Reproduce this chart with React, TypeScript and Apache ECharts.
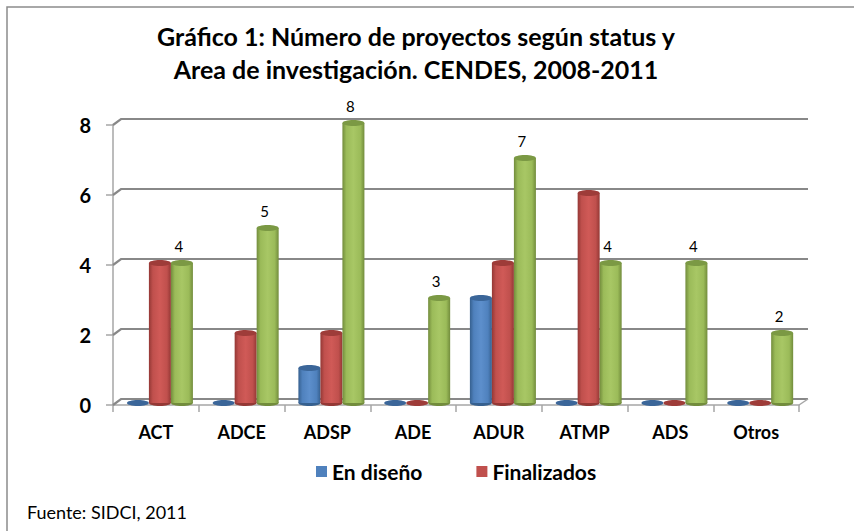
import React, { useEffect, useRef } from "react";
import * as echarts from "echarts";

const categories = ["ACT", "ADCE", "ADSP", "ADE", "ADUR", "ATMP", "ADS", "Otros"];
const enDiseno = [0, 0, 1, 0, 3, 0, 0, 0];
const finalizados = [4, 2, 2, 0, 4, 6, 0, 0];
const enEjecucion = [4, 5, 8, 3, 7, 4, 4, 2];
const yTicks = [0, 2, 4, 6, 8];
const titleText = "Gráfico 1: Número de proyectos según status y\nArea de investigación. CENDES, 2008-2011";
const sourceText = "Fuente: SIDCI, 2011";

const FONT = "Lato, 'Liberation Sans', sans-serif";

const palettes = [
  { base: "#4f81bd", dark: "#36608f", light: "#5d8fcc", top: "#3b6699" },
  { base: "#c0504d", dark: "#943835", light: "#d05a57", top: "#9e3c39" },
  { base: "#9bbb59", dark: "#728c3c", light: "#a8c765", top: "#7b9944" },
];

function makeBarRender(s: number, withLabel: boolean) {
  const p = palettes[s];
  return (params: any, api: any) => {
    const i = api.value(0);
    const v = api.value(1);
    const base = api.coord([i, 0]);
    const top = api.coord([i, v]);
    const band = api.size([1, 0])[0];
    const w = band * 0.2566;
    const cx = base[0] + (s - 1) * w + band * 0.047;
    const dy = -2;
    const bottomY = base[1] + dy;
    const topY = top[1] + dy;
    const rx = w / 2;
    const ry = 3;
    const children: any[] = [];
    if (v > 0) {
      children.push({
        type: "ellipse",
        shape: { cx, cy: bottomY, rx, ry },
        style: { fill: p.dark },
      });
      children.push({
        type: "rect",
        shape: { x: cx - rx, y: topY, width: w, height: bottomY - topY },
        style: {
          fill: new echarts.graphic.LinearGradient(0, 0, 1, 0, [
            { offset: 0, color: p.dark },
            { offset: 0.18, color: p.base },
            { offset: 0.5, color: p.light },
            { offset: 0.82, color: p.base },
            { offset: 1, color: p.dark },
          ]),
        },
      });
    }
    children.push({
      type: "ellipse",
      shape: { cx, cy: topY, rx, ry },
      style: { fill: p.top },
    });
    if (withLabel) {
      children.push({
        type: "text",
        style: {
          text: String(v),
          x: cx - 3,
          y: topY - 17,
          align: "center",
          verticalAlign: "middle",
          font: "15px " + FONT,
          fill: "#000",
        },
      });
    }
    return { type: "group", children };
  };
}

function gridRender(params: any, api: any) {
  const v = api.value(1);
  const y = api.coord([0, v])[1];
  const cs = params.coordSys;
  const x0 = cs.x;
  const x1 = cs.x + cs.width;
  const children: any[] = [
    {
      type: "polyline",
      shape: { points: [[x0, y], [x0 + 8, y - 6], [x1 + 9, y - 6]] },
      style: { stroke: "#888888", lineWidth: 2.2, fill: null },
    },
  ];
  if (v === 0) {
    children.push({
      type: "line",
      shape: { x1: x1, y1: y, x2: x1 + 9, y2: y - 6 },
      style: { stroke: "#a6a6a6", lineWidth: 1.5 },
    });
  }
  return { type: "group", children };
}

export default function App() {
  const ref = useRef<HTMLDivElement>(null);
  useEffect(() => {
    if (!ref.current) return;
    const chart = echarts.init(ref.current, null, { renderer: "svg" });
    const toPairs = (arr: number[]) => arr.map((v, i) => [i, v]);
    chart.setOption({
      animation: false,
      backgroundColor: "#ffffff",
      title: {
        text: titleText,
        left: 411,
        top: 14,
        textAlign: "center",
        textStyle: {
          fontFamily: FONT,
          fontWeight: "bold",
          fontSize: 25,
          lineHeight: 33,
          color: "#000",
        },
      },
      legend: {
        data: [
          { name: "En diseño", icon: "rect" },
          { name: "Finalizados", icon: "rect" },
        ],
        left: 311,
        top: 456,
        itemWidth: 11,
        itemHeight: 11,
        itemGap: 54,
        textStyle: { fontFamily: FONT, fontWeight: "bold", fontSize: 21, color: "#000" },
      },
      grid: { left: 113, right: 55, top: 125, bottom: 126 },
      xAxis: {
        type: "category",
        data: categories,
        boundaryGap: true,
        axisLine: { lineStyle: { color: "#a6a6a6", width: 1.5 } },
        axisTick: { show: true, length: 7, interval: 0, lineStyle: { color: "#a6a6a6", width: 1.5 } },
        axisLabel: { fontFamily: FONT, fontWeight: "bold", fontSize: 18, color: "#000", margin: 18, interval: 0 },
        splitLine: { show: false },
      },
      yAxis: {
        type: "value",
        min: 0,
        max: 8,
        interval: 2,
        axisLine: { show: true, lineStyle: { color: "#a6a6a6", width: 1.5 } },
        axisTick: { show: true, length: 7, lineStyle: { color: "#a6a6a6", width: 1.5 } },
        axisLabel: { fontFamily: FONT, fontWeight: "bold", fontSize: 20, color: "#000", margin: 22 },
        splitLine: { show: false },
      },
      graphic: [
        {
          type: "rect",
          shape: { x: 7, y: 7, width: 870, height: 550 },
          style: { fill: null, stroke: "#8c8c8c", lineWidth: 1.5 },
          silent: true,
        },
        {
          type: "text",
          x: 27,
          y: 512,
          style: {
            text: sourceText,
            font: "18px " + FONT,
            fill: "#000",
            verticalAlign: "middle",
          },
          silent: true,
        },
      ],
      series: [
        {
          type: "custom",
          name: "grid",
          silent: true,
          z: 1,
          data: yTicks.map((t) => [0, t]),
          encode: { x: 0, y: 1 },
          renderItem: gridRender,
        },
        {
          type: "custom",
          name: "En diseño",
          z: 3,
          itemStyle: { color: palettes[0].base },
          data: toPairs(enDiseno),
          encode: { x: 0, y: 1 },
          renderItem: makeBarRender(0, false),
        },
        {
          type: "custom",
          name: "Finalizados",
          z: 3,
          itemStyle: { color: palettes[1].base },
          data: toPairs(finalizados),
          encode: { x: 0, y: 1 },
          renderItem: makeBarRender(1, false),
        },
        {
          type: "custom",
          name: "En ejecución",
          z: 3,
          itemStyle: { color: palettes[2].base },
          data: toPairs(enEjecucion),
          encode: { x: 0, y: 1 },
          renderItem: makeBarRender(2, true),
        },
      ],
    });
    return () => chart.dispose();
  }, []);
  return (
    <div
      ref={ref}
      style={{ position: "fixed", left: 0, top: 0, width: 854, height: 531 }}
    />
  );
}
